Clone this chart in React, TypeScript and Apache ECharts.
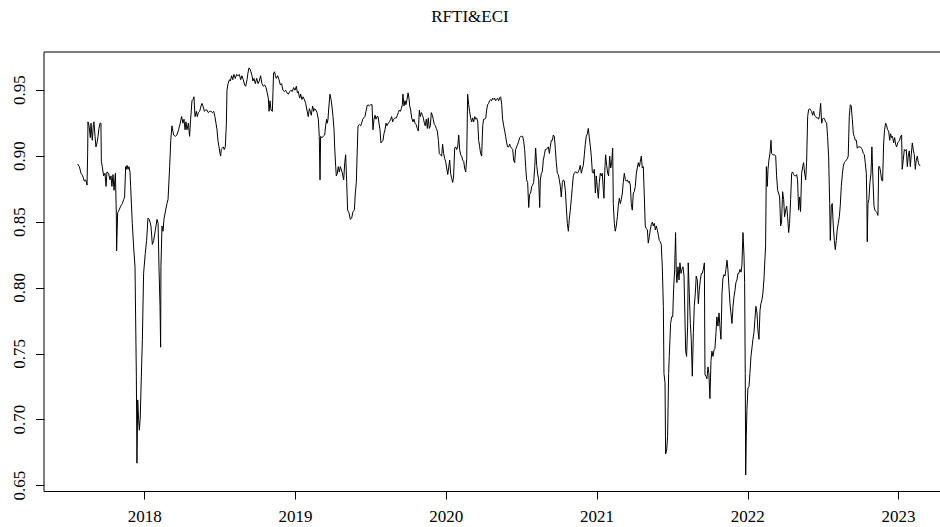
import React, { useEffect, useRef } from "react";
import * as echarts from "echarts";

const TITLE = "RFTI&ECI";
const X_TICKS = [2018, 2019, 2020, 2021, 2022, 2023];
const Y_TICKS = [0.65, 0.7, 0.75, 0.8, 0.85, 0.9, 0.95];

// [decimal year, value]
const period2017_2019: [number, number][] = [
[2017.556,0.894],[2017.567,0.892],[2017.578,0.887],[2017.589,0.885],[2017.600,0.881],[2017.609,0.882],[2017.618,0.878],[2017.622,0.902],[2017.624,0.926],[2017.631,0.923],
[2017.640,0.914],[2017.644,0.925],[2017.653,0.912],[2017.660,0.924],[2017.664,0.926],[2017.671,0.915],[2017.677,0.907],[2017.684,0.910],[2017.691,0.915],[2017.697,0.921],
[2017.704,0.925],[2017.710,0.925],[2017.713,0.896],[2017.719,0.892],[2017.728,0.885],[2017.737,0.887],[2017.744,0.877],[2017.750,0.888],[2017.761,0.887],[2017.770,0.882],
[2017.777,0.885],[2017.783,0.877],[2017.790,0.886],[2017.797,0.874],[2017.806,0.887],[2017.812,0.857],[2017.814,0.828],[2017.821,0.857],[2017.830,0.859],[2017.841,0.862],
[2017.852,0.864],[2017.861,0.867],[2017.867,0.869],[2017.874,0.892],[2017.878,0.890],[2017.883,0.893],[2017.890,0.890],[2017.896,0.892],[2017.903,0.888],[2017.907,0.877],
[2017.918,0.849],[2017.927,0.831],[2017.936,0.816],[2017.945,0.733],[2017.949,0.667],[2017.954,0.715],[2017.960,0.700],[2017.965,0.692],[2017.971,0.702],[2017.978,0.733],
[2017.985,0.761],[2017.993,0.811],[2018.004,0.826],[2018.013,0.836],[2018.022,0.853],[2018.031,0.852],[2018.042,0.847],[2018.051,0.833],[2018.060,0.836],[2018.071,0.844],
[2018.082,0.852],[2018.089,0.849],[2018.095,0.816],[2018.102,0.786],[2018.106,0.755],[2018.108,0.816],[2018.115,0.847],[2018.122,0.843],[2018.128,0.852],[2018.139,0.859],
[2018.148,0.864],[2018.155,0.867],[2018.166,0.892],[2018.173,0.912],[2018.181,0.923],[2018.192,0.916],[2018.203,0.915],[2018.214,0.916],[2018.225,0.920],[2018.236,0.925],
[2018.245,0.930],[2018.254,0.925],[2018.261,0.928],[2018.268,0.920],[2018.274,0.926],[2018.281,0.920],[2018.290,0.925],[2018.298,0.915],[2018.305,0.928],[2018.314,0.942],
[2018.321,0.943],[2018.327,0.945],[2018.334,0.930],[2018.343,0.934],[2018.349,0.930],[2018.356,0.933],[2018.365,0.934],[2018.374,0.938],[2018.380,0.940],[2018.387,0.938],
[2018.396,0.934],[2018.405,0.935],[2018.413,0.935],[2018.422,0.933],[2018.431,0.934],[2018.440,0.934],[2018.449,0.933],[2018.458,0.934],[2018.466,0.930],[2018.473,0.925],
[2018.480,0.920],[2018.486,0.912],[2018.493,0.907],[2018.500,0.902],[2018.504,0.900],[2018.508,0.905],[2018.515,0.906],[2018.522,0.907],[2018.528,0.905],[2018.535,0.907],
[2018.542,0.925],[2018.546,0.950],[2018.553,0.955],[2018.562,0.958],[2018.568,0.957],[2018.577,0.961],[2018.584,0.958],[2018.592,0.962],[2018.601,0.959],[2018.610,0.962],
[2018.619,0.961],[2018.628,0.962],[2018.637,0.958],[2018.645,0.961],[2018.654,0.958],[2018.663,0.954],[2018.670,0.953],[2018.679,0.958],[2018.685,0.963],[2018.692,0.967],
[2018.699,0.966],[2018.705,0.964],[2018.712,0.961],[2018.718,0.957],[2018.725,0.959],[2018.734,0.955],[2018.743,0.959],[2018.752,0.955],[2018.760,0.957],[2018.769,0.961],
[2018.778,0.955],[2018.787,0.953],[2018.796,0.954],[2018.805,0.952],[2018.813,0.948],[2018.820,0.944],[2018.825,0.934],[2018.831,0.942],[2018.838,0.935],[2018.847,0.934],
[2018.851,0.949],[2018.855,0.963],[2018.862,0.964],[2018.867,0.961],[2018.873,0.959],[2018.882,0.961],[2018.891,0.958],[2018.900,0.954],[2018.908,0.955],[2018.917,0.950],
[2018.926,0.949],[2018.935,0.950],[2018.944,0.948],[2018.953,0.947],[2018.962,0.949],[2018.970,0.950],[2018.979,0.949],[2018.988,0.952],[2018.997,0.950],[2019.006,0.953],
[2019.013,0.948],[2019.019,0.949],[2019.028,0.944],[2019.035,0.947],[2019.043,0.943],[2019.050,0.945],[2019.059,0.943],[2019.068,0.940],[2019.076,0.935],[2019.085,0.930],
[2019.092,0.936],[2019.099,0.934],[2019.105,0.931],[2019.114,0.938],[2019.121,0.934],[2019.127,0.936],[2019.136,0.935],[2019.143,0.933],[2019.152,0.928],[2019.158,0.915],
[2019.163,0.882],[2019.167,0.915],[2019.176,0.914],[2019.185,0.915],[2019.194,0.916],[2019.200,0.923],[2019.207,0.928],[2019.211,0.925],[2019.216,0.928],[2019.222,0.938],
[2019.229,0.947],[2019.236,0.943],[2019.242,0.938],[2019.249,0.930],[2019.256,0.920],[2019.260,0.907],[2019.267,0.892],[2019.271,0.885],[2019.278,0.887],[2019.284,0.892],
[2019.291,0.888],
];

const period2019_2021: [number, number][] = [
[2019.298,0.892],[2019.309,0.888],[2019.320,0.882],[2019.327,0.895],[2019.333,0.901],[2019.340,0.880],[2019.346,0.859],[2019.355,0.857],[2019.364,0.852],[2019.373,0.853],
[2019.382,0.858],[2019.391,0.859],[2019.397,0.872],[2019.404,0.880],[2019.408,0.897],[2019.415,0.923],[2019.424,0.924],[2019.433,0.923],[2019.439,0.925],[2019.446,0.928],
[2019.453,0.929],[2019.461,0.930],[2019.468,0.934],[2019.475,0.938],[2019.481,0.939],[2019.490,0.938],[2019.499,0.939],[2019.508,0.939],[2019.514,0.920],[2019.521,0.928],
[2019.528,0.931],[2019.534,0.928],[2019.541,0.930],[2019.548,0.930],[2019.554,0.925],[2019.561,0.920],[2019.567,0.910],[2019.574,0.911],[2019.581,0.912],[2019.587,0.917],
[2019.594,0.920],[2019.601,0.925],[2019.607,0.923],[2019.616,0.925],[2019.623,0.926],[2019.632,0.928],[2019.638,0.930],[2019.645,0.926],[2019.651,0.928],[2019.660,0.929],
[2019.669,0.929],[2019.676,0.931],[2019.682,0.933],[2019.689,0.935],[2019.696,0.934],[2019.702,0.936],[2019.709,0.939],[2019.713,0.947],[2019.720,0.938],[2019.727,0.942],
[2019.733,0.939],[2019.740,0.943],[2019.747,0.948],[2019.753,0.944],[2019.758,0.938],[2019.764,0.935],[2019.771,0.929],[2019.780,0.926],[2019.786,0.928],[2019.793,0.925],
[2019.800,0.924],[2019.808,0.921],[2019.815,0.919],[2019.822,0.935],[2019.828,0.930],[2019.835,0.933],[2019.842,0.931],[2019.848,0.929],[2019.855,0.925],[2019.861,0.923],
[2019.868,0.928],[2019.875,0.921],[2019.881,0.929],[2019.888,0.921],[2019.895,0.923],[2019.901,0.933],[2019.908,0.931],[2019.914,0.928],[2019.921,0.924],[2019.928,0.923],
[2019.934,0.921],[2019.941,0.919],[2019.948,0.912],[2019.954,0.902],[2019.961,0.901],[2019.970,0.900],[2019.976,0.909],[2019.983,0.902],[2019.990,0.898],[2019.996,0.896],
[2020.003,0.891],[2020.010,0.886],[2020.016,0.891],[2020.023,0.897],[2020.029,0.887],[2020.036,0.883],[2020.043,0.880],[2020.049,0.885],[2020.056,0.906],[2020.063,0.907],
[2020.069,0.905],[2020.076,0.907],[2020.083,0.916],[2020.089,0.905],[2020.096,0.901],[2020.102,0.900],[2020.109,0.897],[2020.116,0.896],[2020.122,0.891],[2020.129,0.888],
[2020.136,0.898],[2020.142,0.947],[2020.149,0.939],[2020.155,0.934],[2020.162,0.929],[2020.169,0.926],[2020.175,0.929],[2020.182,0.926],[2020.189,0.930],[2020.195,0.928],
[2020.202,0.929],[2020.209,0.926],[2020.215,0.912],[2020.222,0.907],[2020.228,0.902],[2020.235,0.900],[2020.242,0.923],[2020.248,0.928],[2020.255,0.928],[2020.262,0.929],
[2020.268,0.935],[2020.275,0.939],[2020.281,0.940],[2020.288,0.942],[2020.295,0.943],[2020.301,0.942],[2020.308,0.944],[2020.315,0.943],[2020.321,0.944],[2020.328,0.942],
[2020.334,0.943],[2020.341,0.944],[2020.348,0.942],[2020.354,0.944],[2020.361,0.945],[2020.368,0.939],[2020.374,0.928],[2020.381,0.923],[2020.388,0.919],[2020.394,0.915],
[2020.401,0.910],[2020.407,0.907],[2020.414,0.907],[2020.421,0.909],[2020.427,0.907],[2020.434,0.906],[2020.441,0.905],[2020.447,0.897],[2020.454,0.895],[2020.460,0.905],
[2020.467,0.907],[2020.474,0.909],[2020.480,0.911],[2020.487,0.914],[2020.494,0.915],[2020.500,0.915],[2020.507,0.915],[2020.514,0.911],[2020.520,0.905],[2020.527,0.892],
[2020.533,0.882],[2020.540,0.880],[2020.547,0.861],[2020.553,0.871],[2020.560,0.872],[2020.567,0.877],[2020.573,0.878],[2020.580,0.880],[2020.587,0.892],[2020.593,0.906],
[2020.600,0.893],[2020.606,0.887],[2020.613,0.882],[2020.620,0.861],[2020.624,0.882],[2020.631,0.887],[2020.637,0.888],[2020.644,0.897],[2020.651,0.901],[2020.657,0.905],
[2020.664,0.905],[2020.671,0.906],[2020.677,0.907],[2020.684,0.902],[2020.690,0.907],[2020.697,0.912],[2020.704,0.912],[2020.710,0.916],[2020.717,0.915],[2020.724,0.905],
[2020.730,0.895],[2020.737,0.887],[2020.743,0.886],[2020.750,0.882],[2020.757,0.877],[2020.763,0.869],[2020.770,0.880],[2020.777,0.882],[2020.783,0.881],[2020.790,0.874],
[2020.796,0.862],[2020.803,0.849],[2020.810,0.843],[2020.816,0.852],[2020.823,0.859],[2020.830,0.868],[2020.836,0.876],[2020.843,0.885],[2020.849,0.887],[2020.856,0.888],
[2020.863,0.888],[2020.869,0.887],[2020.876,0.888],[2020.883,0.890],[2020.889,0.893],[2020.896,0.887],[2020.902,0.890],[2020.909,0.893],[2020.916,0.901],[2020.922,0.909],
[2020.929,0.915],[2020.936,0.917],[2020.942,0.921],[2020.949,0.914],[2020.956,0.907],[2020.962,0.900],[2020.969,0.888],[2020.976,0.887],[2020.982,0.890],[2020.989,0.872],
[2020.995,0.885],[2021.002,0.876],[2021.009,0.868],[2021.015,0.880],[2021.022,0.887],[2021.029,0.885],[2021.035,0.887],[2021.042,0.874],[2021.046,0.868],[2021.051,0.887],
[2021.057,0.901],[2021.064,0.893],[2021.071,0.887],[2021.077,0.885],[2021.084,0.900],[2021.091,0.891],[2021.097,0.895],[2021.104,0.906],[2021.108,0.864],[2021.115,0.849],
[2021.121,0.843],[2021.128,0.847],[2021.135,0.854],[2021.141,0.862],[2021.148,0.868],[2021.155,0.864],[2021.161,0.867],[2021.168,0.872],[2021.174,0.880],[2021.181,0.887],
[2021.188,0.882],[2021.194,0.881],[2021.201,0.882],[2021.208,0.880],[2021.214,0.881],
];

const period2021_2023: [number, number][] = [
[2021.221,0.878],[2021.227,0.864],[2021.234,0.859],[2021.241,0.872],[2021.247,0.873],[2021.254,0.877],[2021.261,0.887],[2021.267,0.891],[2021.274,0.895],[2021.281,0.892],
[2021.287,0.896],[2021.294,0.900],[2021.300,0.891],[2021.307,0.892],[2021.314,0.869],[2021.320,0.847],[2021.327,0.845],[2021.334,0.844],[2021.340,0.834],[2021.347,0.839],
[2021.353,0.844],[2021.360,0.848],[2021.367,0.850],[2021.373,0.847],[2021.380,0.849],[2021.387,0.844],[2021.393,0.847],[2021.400,0.844],[2021.407,0.840],[2021.413,0.836],
[2021.420,0.835],[2021.426,0.833],[2021.433,0.816],[2021.440,0.786],[2021.444,0.735],[2021.451,0.728],[2021.455,0.674],[2021.462,0.677],[2021.468,0.687],[2021.475,0.735],
[2021.479,0.748],[2021.484,0.761],[2021.488,0.773],[2021.495,0.778],[2021.502,0.778],[2021.508,0.799],[2021.515,0.814],[2021.521,0.842],[2021.526,0.811],[2021.530,0.804],
[2021.537,0.816],[2021.544,0.806],[2021.550,0.819],[2021.557,0.811],[2021.563,0.814],[2021.570,0.816],[2021.577,0.809],[2021.583,0.778],[2021.588,0.752],[2021.594,0.748],
[2021.601,0.771],[2021.605,0.819],[2021.612,0.796],[2021.619,0.773],[2021.625,0.761],[2021.632,0.733],[2021.639,0.766],[2021.645,0.786],[2021.652,0.796],[2021.658,0.809],
[2021.665,0.806],[2021.672,0.788],[2021.678,0.798],[2021.685,0.806],[2021.692,0.811],[2021.698,0.811],[2021.705,0.814],[2021.712,0.819],[2021.716,0.734],[2021.723,0.733],
[2021.729,0.731],[2021.736,0.740],[2021.742,0.735],[2021.749,0.716],[2021.756,0.745],[2021.762,0.752],[2021.769,0.748],[2021.776,0.753],[2021.782,0.754],[2021.789,0.766],
[2021.795,0.778],[2021.802,0.771],[2021.809,0.781],[2021.815,0.771],[2021.822,0.761],[2021.829,0.796],[2021.835,0.807],[2021.842,0.810],[2021.849,0.809],[2021.855,0.814],
[2021.862,0.821],[2021.868,0.814],[2021.875,0.801],[2021.882,0.788],[2021.888,0.781],[2021.895,0.773],[2021.902,0.786],[2021.908,0.793],[2021.915,0.798],[2021.921,0.804],
[2021.928,0.806],[2021.935,0.811],[2021.941,0.811],[2021.948,0.814],[2021.955,0.812],[2021.961,0.817],[2021.968,0.842],[2021.975,0.824],[2021.979,0.804],[2021.983,0.735],
[2021.986,0.658],[2021.990,0.687],[2021.994,0.707],[2022.001,0.724],[2022.008,0.725],[2022.014,0.735],[2022.021,0.748],[2022.028,0.755],[2022.034,0.761],[2022.041,0.766],
[2022.047,0.776],[2022.054,0.786],[2022.061,0.781],[2022.067,0.768],[2022.074,0.761],[2022.081,0.783],[2022.087,0.788],[2022.094,0.791],[2022.100,0.796],[2022.107,0.806],
[2022.114,0.823],[2022.118,0.831],[2022.123,0.892],[2022.129,0.877],[2022.134,0.890],[2022.140,0.897],[2022.147,0.902],[2022.154,0.912],[2022.158,0.902],[2022.165,0.901],
[2022.171,0.901],[2022.178,0.901],[2022.185,0.900],[2022.191,0.885],[2022.198,0.874],[2022.204,0.872],[2022.211,0.869],[2022.218,0.847],[2022.224,0.850],[2022.231,0.873],
[2022.238,0.867],[2022.244,0.854],[2022.251,0.859],[2022.258,0.862],[2022.264,0.854],[2022.271,0.842],[2022.277,0.849],[2022.284,0.867],[2022.291,0.887],[2022.297,0.888],
[2022.304,0.886],[2022.311,0.885],[2022.317,0.885],[2022.324,0.886],[2022.330,0.882],[2022.337,0.859],[2022.344,0.869],[2022.350,0.858],[2022.357,0.887],[2022.364,0.892],
[2022.370,0.895],[2022.377,0.887],[2022.384,0.882],[2022.390,0.895],[2022.397,0.930],[2022.403,0.935],[2022.410,0.936],[2022.417,0.935],[2022.423,0.934],[2022.430,0.931],
[2022.437,0.934],[2022.443,0.931],[2022.450,0.930],[2022.456,0.929],[2022.463,0.929],[2022.470,0.928],[2022.476,0.931],[2022.483,0.940],[2022.490,0.925],[2022.496,0.928],
[2022.503,0.929],[2022.509,0.928],[2022.516,0.926],[2022.523,0.925],[2022.529,0.915],[2022.536,0.900],[2022.543,0.864],[2022.547,0.836],[2022.554,0.862],[2022.560,0.864],
[2022.567,0.847],[2022.574,0.836],[2022.580,0.829],[2022.587,0.836],[2022.593,0.844],[2022.600,0.849],[2022.607,0.854],[2022.613,0.862],[2022.620,0.877],[2022.627,0.886],
[2022.633,0.892],[2022.640,0.895],[2022.647,0.896],[2022.653,0.897],[2022.660,0.898],[2022.666,0.900],[2022.673,0.930],[2022.680,0.939],[2022.686,0.938],[2022.693,0.928],
[2022.700,0.917],[2022.706,0.915],[2022.713,0.912],[2022.720,0.912],[2022.726,0.906],[2022.733,0.907],[2022.739,0.907],[2022.746,0.907],[2022.753,0.906],[2022.759,0.905],
[2022.766,0.902],[2022.773,0.901],[2022.779,0.895],[2022.786,0.887],[2022.790,0.864],[2022.792,0.835],[2022.797,0.864],[2022.803,0.867],[2022.810,0.880],[2022.817,0.887],
[2022.823,0.907],[2022.830,0.882],[2022.837,0.862],[2022.843,0.859],[2022.850,0.858],[2022.857,0.857],[2022.863,0.855],[2022.868,0.892],[2022.874,0.892],[2022.881,0.888],
[2022.887,0.882],[2022.894,0.881],[2022.901,0.910],[2022.907,0.920],[2022.914,0.925],[2022.921,0.923],[2022.927,0.920],[2022.934,0.919],[2022.941,0.912],[2022.947,0.917],
[2022.954,0.914],[2022.960,0.915],[2022.967,0.910],[2022.974,0.914],[2022.980,0.909],[2022.987,0.907],[2022.994,0.910],[2023.000,0.911],[2023.007,0.912],[2023.013,0.915],
[2023.020,0.916],[2023.024,0.890],[2023.031,0.897],[2023.038,0.905],[2023.044,0.904],[2023.051,0.905],[2023.058,0.892],[2023.064,0.900],[2023.071,0.904],[2023.078,0.892],
[2023.084,0.901],[2023.091,0.910],[2023.097,0.905],[2023.104,0.901],[2023.111,0.890],[2023.117,0.897],[2023.124,0.900],[2023.131,0.895],[2023.137,0.893],[2023.144,0.893],
];

const FONT = "'Liberation Serif', 'Times New Roman', serif";

export default function App() {
  const ref = useRef<HTMLDivElement>(null);

  useEffect(() => {
    if (!ref.current) return;
    const chart = echarts.init(ref.current, null, { renderer: "svg" });
    const data = [...period2017_2019, ...period2019_2021, ...period2021_2023];
    chart.setOption({
      animation: false,
      backgroundColor: "#ffffff",
      graphic: [
        {
          type: "text",
          x: 470,
          y: 16,
          style: {
            text: TITLE,
            align: "center",
            verticalAlign: "middle",
            fontFamily: FONT,
            fontSize: 17,
            fill: "#000",
          },
        },
      ],
      grid: {
        left: 44,
        top: 52,
        width: 910,
        height: 439.5,
        show: true,
        borderColor: "#000",
        borderWidth: 1,
        backgroundColor: "transparent",
        outerBoundsMode: "none",
        containLabel: false,
      },
      xAxis: {
        type: "value",
        min: 2017.3325,
        max: 2023.3675,
        splitLine: { show: false },
        axisLine: { show: false },
        axisTick: {
          show: true,
          length: 8,
          inside: false,
          customValues: X_TICKS,
          lineStyle: { color: "#000", width: 1 },
        },
        axisLabel: {
          customValues: X_TICKS,
          formatter: (v: number) => String(Math.round(v)),
          margin: 16,
          fontSize: 17,
          fontFamily: FONT,
          color: "#000",
        },
      },
      yAxis: {
        type: "value",
        min: 0.6455,
        max: 0.979,
        splitLine: { show: false },
        axisLine: { show: false },
        axisTick: {
          show: true,
          length: 8,
          inside: false,
          customValues: Y_TICKS,
          lineStyle: { color: "#000", width: 1 },
        },
        axisLabel: {
          customValues: Y_TICKS,
          formatter: (v: number) => v.toFixed(2),
          rotate: 90,
          margin: 16,
          fontSize: 17,
          fontFamily: FONT,
          color: "#000",
        },
      },
      series: [
        {
          type: "line",
          data,
          showSymbol: false,
          symbol: "none",
          clip: true,
          lineStyle: { color: "#000", width: 1 },
        },
      ],
    });
    return () => chart.dispose();
  }, []);

  return (
    <div
      ref={ref}
      style={{ position: "fixed", left: 0, top: 0, width: 940, height: 527, background: "#fff" }}
    />
  );
}
